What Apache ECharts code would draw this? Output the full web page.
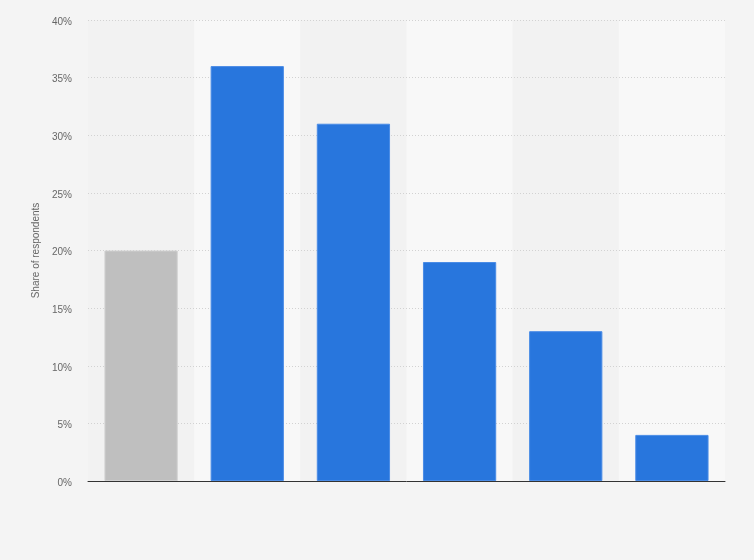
<!DOCTYPE html>
<html>
<head>
<meta charset="utf-8">
<script src="https://cdn.jsdelivr.net/npm/echarts@6/dist/echarts.min.js"></script>
<style>
  html, body {margin: 0; padding: 0; background: #f4f4f4;}
  #chart {width: 754px; height: 560px;}
</style>
</head>
<body>
<div id="chart"></div>
<script>
const categories = ["A", "B", "C", "D", "E", "F"];
const shareValues = [20, 36, 31, 19, 13, 4];
const barColors = ["#bfbfbf", "#2876dd", "#2876dd", "#2876dd", "#2876dd", "#2876dd"];
const borderColors = ["#d0d0d0", "#4a8ce6", "#4a8ce6", "#4a8ce6", "#4a8ce6", "#4a8ce6"];

const chart = echarts.init(document.getElementById("chart"));
chart.setOption({
  animation: false,
  backgroundColor: "#f4f4f4",
  textStyle: {fontFamily: "Arial, Liberation Sans, sans-serif"},
  grid: {left: 88, right: 29, top: 20, bottom: 79},
  xAxis: {
    type: "category",
    data: categories,
    z: 0,
    axisTick: {show: false},
    axisLabel: {show: false},
    axisLine: {lineStyle: {color: "#333", width: 1}},
    splitArea: {show: true, areaStyle: {color: ["#f2f2f2", "#f8f8f8"]}},
  },
  yAxis: {
    type: "value",
    min: 0,
    max: 40,
    interval: 5,
    z: 1,
    name: "Share of respondents",
    nameLocation: "middle",
    nameGap: 40,
    nameTextStyle: {color: "#666", fontSize: 10},
    axisLine: {show: false},
    axisTick: {show: false},
    axisLabel: {formatter: "{value}%", color: "#666", fontSize: 10, margin: 16, verticalAlign: "top", lineHeight: 10, padding: [-3, 0, 0, 0]},
    splitLine: {showMinLine: false, lineStyle: {color: "#d2d2d2", type: [1, 2]}},
  },
  series: [{
    type: "bar",
    barWidth: "69%",
    z: 2,
    data: shareValues.map((value, i) => ({
      value,
      itemStyle: {color: barColors[i], borderColor: borderColors[i], borderWidth: 1},
    })),
  }],
});
</script>
</body>
</html>
